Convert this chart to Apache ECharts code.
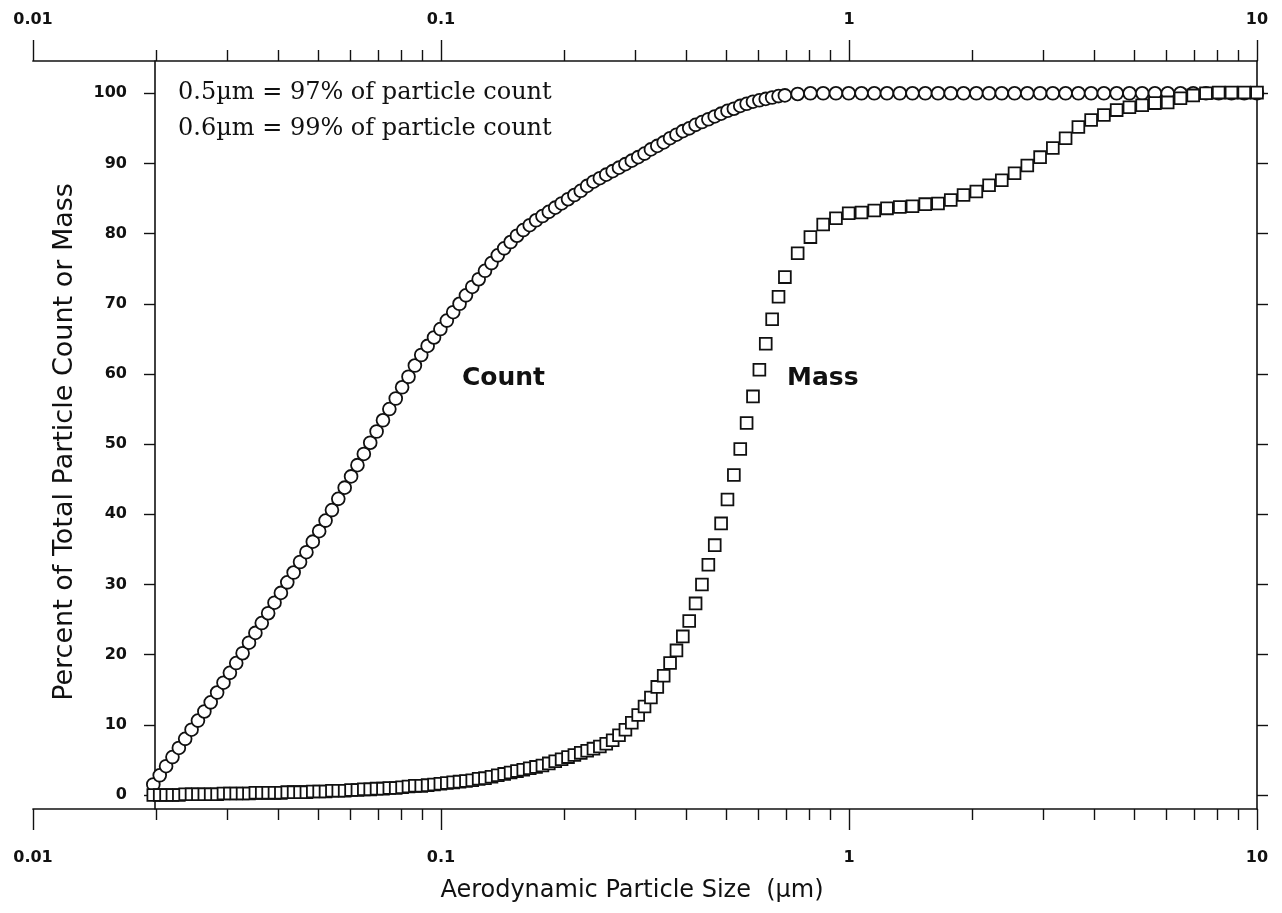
<!DOCTYPE html>
<html>
<head>
<meta charset="utf-8">
<script src="https://cdn.jsdelivr.net/npm/echarts@6/dist/echarts.min.js"></script>
<style>
  html, body { margin: 0; padding: 0; background: #fff; }
  #chart { width: 1282px; height: 913px; }
</style>
</head>
<body>
<div id="chart"></div>
<script>
// Aerodynamic particle size (µm) of each measurement channel
const sizeUm = [
  0.01981,0.02054,0.02129,0.02207,0.02288,0.02371,0.02458,0.02548,0.02642,0.02738,
  0.02839,0.02943,0.03051,0.03162,0.03278,0.03398,0.03523,0.03652,0.03786,0.03924,
  0.04068,0.04217,0.04371,0.04532,0.04698,0.04870,0.05048,0.05233,0.05425,0.05623,
  0.05829,0.06043,0.06264,0.06494,0.06732,0.06978,0.07234,0.07499,0.07774,0.08058,
  0.08354,0.08660,0.08977,0.09306,0.09647,
  0.1000,0.1037,0.1075,0.1114,0.1155,0.1197,0.1241,0.1286,0.1334,0.1382,
  0.1433,0.1486,0.1540,0.1596,0.1655,0.1715,0.1778,0.1843,0.1911,0.1981,
  0.2054,0.2129,0.2207,0.2288,0.2371,0.2458,0.2548,0.2642,0.2738,0.2839,
  0.2943,0.3051,0.3162,0.3278,0.3398,0.3523,0.3652,0.3786,0.3924,0.4068,
  0.4217,0.4371,0.4532,0.4698,0.4870,0.5048,0.5233,0.5425,0.5623,0.5829,
  0.6043,0.6264,0.6494,0.6732,0.6978,
  0.7499,0.8058,0.8660,0.9306,1.000,1.075,1.155,1.241,1.334,1.433,
  1.540,1.655,1.778,1.911,2.054,2.207,2.371,2.548,2.738,2.943,
  3.162,3.398,3.652,3.924,4.217,4.532,4.870,5.233,5.623,6.043,
  6.494,6.978,7.499,8.058,8.660,9.306,10.00
];

// Cumulative percent of total particle count
const countPct = [
  1.5,2.8,4.1,5.4,6.7,8.0,9.3,10.6,11.9,13.2,
  14.6,16.0,17.4,18.8,20.2,21.7,23.1,24.5,25.9,27.4,
  28.8,30.3,31.7,33.2,34.6,36.1,37.6,39.1,40.6,42.2,
  43.8,45.4,47.0,48.6,50.2,51.8,53.4,55.0,56.5,58.1,
  59.6,61.2,62.7,64.0,65.2,66.4,67.6,68.8,70.0,71.2,
  72.4,73.5,74.7,75.8,76.9,77.9,78.8,79.7,80.5,81.2,
  81.9,82.5,83.1,83.7,84.3,84.9,85.5,86.1,86.8,87.4,
  87.9,88.4,88.9,89.4,89.9,90.4,90.9,91.4,92.0,92.5,
  93.0,93.6,94.1,94.6,95.0,95.5,95.9,96.3,96.7,97.1,
  97.5,97.8,98.2,98.5,98.8,99.0,99.2,99.4,99.6,99.7,
  99.9,100,100,100,100,100,100,100,100,100,
  100,100,100,100,100,100,100,100,100,100,
  100,100,100,100,100,100,100,100,100,100,
  100,100,100,100,100,100,100
];

// Cumulative percent of total particle mass
const massPct = [
  0,0,0,0,0,0.1,0.1,0.1,0.1,0.1,
  0.1,0.2,0.2,0.2,0.2,0.2,0.3,0.3,0.3,0.3,
  0.3,0.4,0.4,0.4,0.4,0.5,0.5,0.5,0.6,0.6,
  0.6,0.7,0.7,0.8,0.8,0.9,0.9,1.0,1.0,1.1,
  1.2,1.3,1.3,1.4,1.5,1.6,1.7,1.8,1.9,2.0,
  2.1,2.3,2.4,2.6,2.8,3.0,3.2,3.4,3.6,3.8,
  4.0,4.2,4.5,4.8,5.1,5.4,5.7,6.0,6.3,6.6,
  6.9,7.3,7.8,8.5,9.3,10.3,11.4,12.6,13.9,15.4,
  17.0,18.8,20.6,22.6,24.8,27.3,30.0,32.8,35.6,38.7,
  42.1,45.6,49.3,53.0,56.8,60.6,64.3,67.8,71.0,73.8,
  77.2,79.5,81.3,82.2,82.9,83.0,83.3,83.6,83.8,83.9,
  84.2,84.3,84.8,85.5,86.0,86.9,87.6,88.6,89.7,90.9,
  92.2,93.6,95.2,96.2,96.9,97.6,98.0,98.3,98.6,98.7,
  99.3,99.7,100.0,100.1,100.1,100.1,100.1
];

// Axis ticks and labels
const xMajorTicks = [0.01, 0.1, 1, 10];
const xMajorLabels = ['0.01', '0.1', '1', '10'];
const xMinorTicks = [0.02,0.03,0.04,0.05,0.06,0.07,0.08,0.09,
                     0.2,0.3,0.4,0.5,0.6,0.7,0.8,0.9,
                     2,3,4,5,6,7,8,9];
const yTicks = [0,10,20,30,40,50,60,70,80,90,100];
const yTickLabels = ['0','10','20','30','40','50','60','70','80','90','100'];

const xTitle = 'Aerodynamic Particle Size  (µm)';
const yTitle = 'Percent of Total Particle Count or Mass';
const noteLines = ['0.5µm = 97% of particle count', '0.6µm = 99% of particle count'];
const seriesNames = ['Count', 'Mass'];

const INK = '#111';
const SANS = 'DejaVu Sans';

function xLabelFmt(v) {
  for (let i = 0; i < xMajorTicks.length; i++) {
    if (Math.abs(v - xMajorTicks[i]) / xMajorTicks[i] < 1e-6) return xMajorLabels[i];
  }
  return '';
}
function yLabelFmt(v) {
  const i = yTicks.indexOf(Math.round(v));
  return i >= 0 ? yTickLabels[i] : '';
}

function frameX(position, major, withLabels) {
  return {
    gridIndex: 0, type: 'log', logBase: 10, min: 0.01, max: 10, position: position,
    axisLine: { show: major, onZero: false, lineStyle: { color: INK, width: 1.7 } },
    axisTick: { show: true, inside: false, customValues: major ? xMajorTicks : xMinorTicks,
                length: major ? 21 : 11, lineStyle: { color: INK, width: 1.4 } },
    axisLabel: { show: withLabels, customValues: xMajorTicks, formatter: xLabelFmt,
                 margin: position === 'bottom' ? 41 : 33,
                 fontFamily: SANS, fontWeight: 'bold', fontSize: 16, color: INK },
    splitLine: { show: false }, minorTick: { show: false }
  };
}

const chart = echarts.init(document.getElementById('chart'), null, { renderer: 'canvas' });

const xAxes = [
  frameX('bottom', true, true),
  frameX('bottom', false, false),
  frameX('top', true, true),
  frameX('top', false, false),
  { gridIndex: 1, type: 'log', logBase: 10, min: 0.02, max: 10, show: false }
];
Object.assign(xAxes[0], {
  name: xTitle, nameLocation: 'middle', nameGap: 70,
  nameTextStyle: { fontFamily: SANS, fontSize: 24, color: INK, padding: [0, 26, 0, 0] }
});

const yAxes = [
  { gridIndex: 0, type: 'value', min: -2, max: 104.6, show: false },
  {
    gridIndex: 1, type: 'value', min: -2, max: 104.6, position: 'left',
    axisLine: { show: true, onZero: false, lineStyle: { color: INK, width: 1.6 } },
    axisTick: { show: true, inside: false, customValues: yTicks, length: 11, lineStyle: { color: INK, width: 1.4 } },
    axisLabel: { customValues: yTicks, formatter: yLabelFmt, margin: 28,
                 fontFamily: SANS, fontWeight: 'bold', fontSize: 16, color: INK },
    splitLine: { show: false },
    name: yTitle, nameLocation: 'middle', nameGap: 77, nameRotate: 90,
    nameTextStyle: { fontFamily: SANS, fontSize: 27, color: INK, padding: [0, 14, 0, 0] }
  },
  {
    gridIndex: 1, type: 'value', min: -2, max: 104.6, position: 'right',
    axisLine: { show: true, onZero: false, lineStyle: { color: INK, width: 1.6 } },
    axisTick: { show: true, inside: false, customValues: yTicks, length: 11, lineStyle: { color: INK, width: 1.4 } },
    axisLabel: { show: false },
    splitLine: { show: false }
  }
];

const countData = sizeUm.map((x, i) => [x, countPct[i]]);
const massData = sizeUm.map((x, i) => [x, massPct[i]]);

chart.setOption({
  animation: false,
  backgroundColor: '#fff',
  grid: [
    { left: 33, right: 25, top: 61, bottom: 104 },
    { left: 155, right: 25, top: 61, bottom: 104 }
  ],
  xAxis: xAxes,
  yAxis: yAxes,
  series: [
    {
      name: seriesNames[0], type: 'scatter', xAxisIndex: 4, yAxisIndex: 1,
      symbol: 'circle', symbolSize: 12.8, clip: false,
      itemStyle: { color: '#fff', borderColor: INK, borderWidth: 1.8, opacity: 1 },
      data: countData
    },
    {
      name: seriesNames[1], type: 'scatter', xAxisIndex: 4, yAxisIndex: 1,
      symbol: 'rect', symbolSize: 11.8, clip: false,
      itemStyle: { color: '#fff', borderColor: INK, borderWidth: 1.8, opacity: 1 },
      data: massData
    }
  ],
  graphic: [
    { type: 'text', x: 178, y: 93, style: { text: noteLines[0], fontFamily: 'DejaVu Serif', fontSize: 24, fill: INK, verticalAlign: 'middle' } },
    { type: 'text', x: 178, y: 129, style: { text: noteLines[1], fontFamily: 'DejaVu Serif', fontSize: 24, fill: INK, verticalAlign: 'middle' } },
    { type: 'text', x: 462, y: 378, style: { text: seriesNames[0], fontFamily: SANS, fontWeight: 'bold', fontSize: 25, fill: INK, verticalAlign: 'middle' } },
    { type: 'text', x: 787, y: 378, style: { text: seriesNames[1], fontFamily: SANS, fontWeight: 'bold', fontSize: 25, fill: INK, verticalAlign: 'middle' } }
  ]
});
</script>
</body>
</html>
